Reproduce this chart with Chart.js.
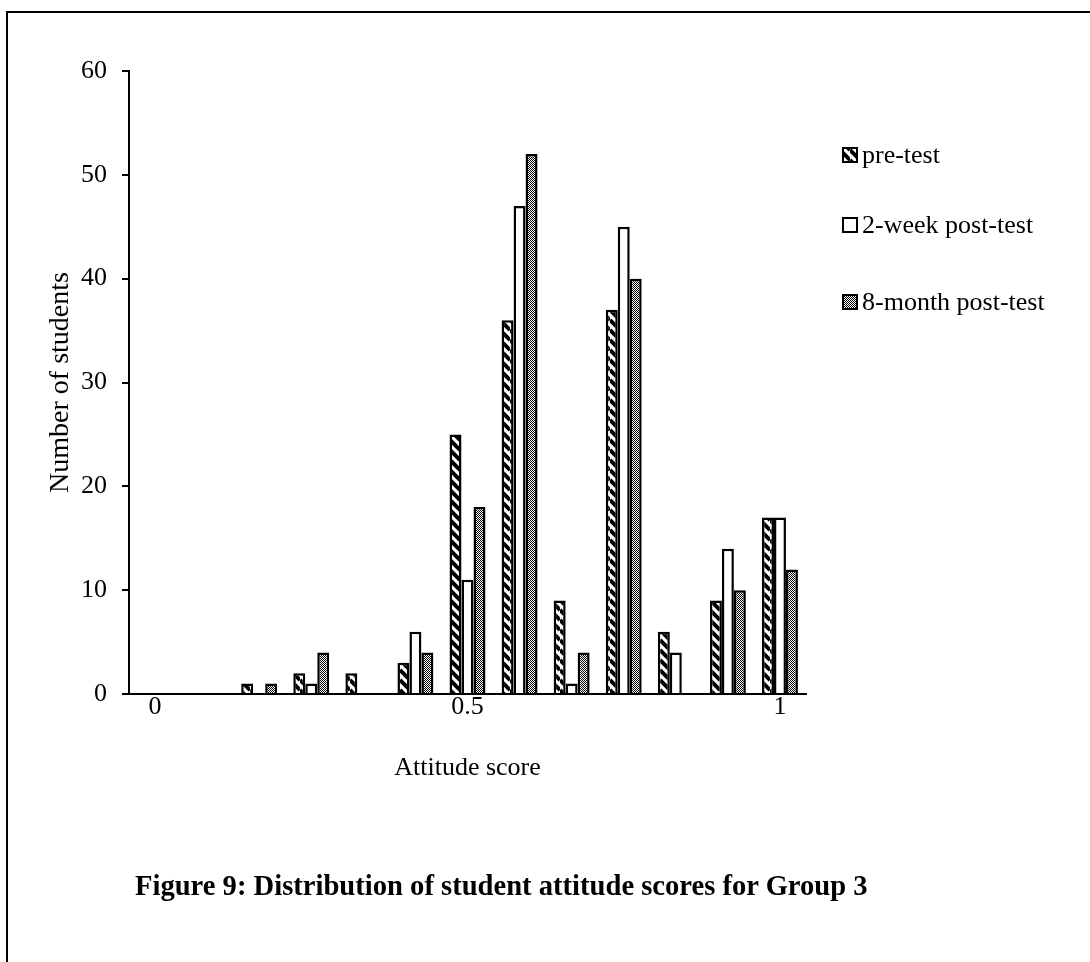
<!DOCTYPE html>
<html>
<head>
<meta charset="utf-8">
<script src="https://cdn.jsdelivr.net/npm/chart.js@4.4.0/dist/chart.umd.min.js"></script>
<style>
html, body { margin: 0; padding: 0; background: #fff; overflow: hidden; width: 1090px; height: 962px; }
#frame { position: absolute; left: 6px; top: 11px; width: 1200px; height: 1100px; border: 2px solid #000; }
#chart { position: absolute; left: 0; top: 0; }
#caption { position: absolute; left: 135px; top: 870px; font: bold 28.6px 'Liberation Serif', 'Times New Roman', serif; color: #000; white-space: nowrap; }
</style>
</head>
<body>
<div id="frame"></div>
<canvas id="chart" width="1090" height="962"></canvas>
<div id="caption">Figure 9: Distribution of student attitude scores for Group 3</div>
<script>
var scores = ['0', '0.08', '0.17', '0.25', '0.33', '0.42', '0.5', '0.58', '0.67', '0.75', '0.83', '0.92', '1'];
var tickLabels = ['0', '', '', '', '', '', '0.5', '', '', '', '', '', '1'];
var preTest = [0, 0, 1, 2, 2, 3, 25, 36, 9, 37, 6, 9, 17];
var twoWeek = [0, 0, 0, 1, 0, 6, 11, 47, 1, 45, 4, 14, 17];
var eightMonth = [0, 0, 1, 4, 0, 4, 18, 52, 4, 40, 0, 10, 12];
var seriesNames = ['pre-test', '2-week post-test', '8-month post-test'];

var serif = "'Liberation Serif', 'Times New Roman', serif";

// thick diagonal black dashes on white
function stripePattern() {
  var n = 10;
  var c = document.createElement('canvas');
  c.width = n; c.height = n;
  var g = c.getContext('2d');
  g.fillStyle = '#fff';
  g.fillRect(0, 0, n, n);
  g.strokeStyle = '#000';
  g.lineWidth = 4;
  [-n, 0, n].forEach(function (k) {
    g.beginPath();
    g.moveTo(0, k);
    g.lineTo(n, k + n);
    g.stroke();
  });
  return g.createPattern(c, 'repeat');
}

// fine checker (looks grey)
function checkPattern() {
  var c = document.createElement('canvas');
  c.width = 2; c.height = 2;
  var g = c.getContext('2d');
  g.fillStyle = '#fff';
  g.fillRect(0, 0, 2, 2);
  g.fillStyle = '#000';
  g.fillRect(0, 0, 1, 1);
  g.fillRect(1, 1, 1, 1);
  return g.createPattern(c, 'repeat');
}

var sideLegend = {
  id: 'sideLegend',
  afterDraw: function (chart) {
    var ctx = chart.ctx;
    var ys = [155, 225, 302];
    chart.data.datasets.forEach(function (ds, i) {
      ctx.save();
      ctx.fillStyle = ds.backgroundColor;
      ctx.fillRect(843, ys[i] - 7, 14, 14);
      ctx.strokeStyle = '#000';
      ctx.lineWidth = 2;
      ctx.strokeRect(843, ys[i] - 7, 14, 14);
      ctx.fillStyle = '#000';
      ctx.font = '26px ' + serif;
      ctx.textBaseline = 'middle';
      ctx.fillText(ds.label, 862, ys[i] + 1);
      ctx.restore();
    });
  }
};

var ctx = document.getElementById('chart').getContext('2d');
var myChart = new Chart(ctx, {
  type: 'bar',
  data: {
    labels: scores,
    datasets: [
      { label: seriesNames[0], data: preTest, backgroundColor: stripePattern() },
      { label: seriesNames[1], data: twoWeek, backgroundColor: '#fff' },
      { label: seriesNames[2], data: eightMonth, backgroundColor: checkPattern() }
    ]
  },
  options: {
    responsive: false,
    animation: false,
    devicePixelRatio: 1,
    layout: { padding: { left: 0, right: 284, top: 71, bottom: 178 } },
    datasets: {
      bar: {
        borderColor: '#000',
        borderWidth: 2.5,
        categoryPercentage: 0.69,
        barPercentage: 1
      }
    },
    plugins: {
      legend: { display: false },
      tooltip: { enabled: false }
    },
    scales: {
      x: {
        grid: { display: true, drawOnChartArea: false, drawTicks: false },
        border: { display: true, color: '#000', width: 2 },
        ticks: {
          autoSkip: false,
          maxRotation: 0,
          padding: -2,
          color: '#000',
          font: { family: serif, size: 26 },
          callback: function (v, i) { return tickLabels[i]; }
        },
        title: {
          display: true,
          text: 'Attitude score',
          color: '#000',
          font: { family: serif, size: 26 },
          padding: { top: 0, bottom: 0 }
        },
        afterFit: function (s) { s.height = 90; }
      },
      y: {
        min: 0,
        max: 60,
        grid: { drawOnChartArea: false, drawTicks: true, tickLength: 7, color: '#000', lineWidth: 2 },
        border: { display: true, color: '#000', width: 2 },
        ticks: {
          stepSize: 10,
          padding: 15,
          color: '#000',
          font: { family: serif, size: 26 }
        },
        title: {
          display: true,
          text: 'Number of students',
          color: '#000',
          font: { family: serif, size: 28 },
          padding: { top: 44, bottom: 0 }
        },
        afterFit: function (s) { s.width = 129; }
      }
    }
  },
  plugins: [sideLegend]
});
</script>
</body>
</html>
